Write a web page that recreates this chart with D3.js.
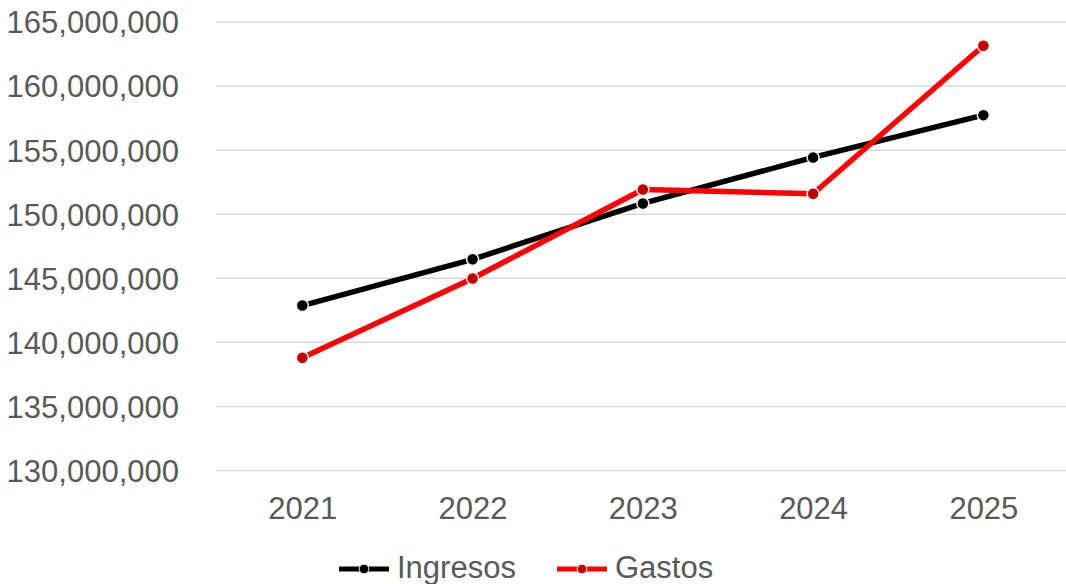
<!DOCTYPE html>
<html>
<head>
<meta charset="utf-8">
<script src="https://cdn.jsdelivr.net/npm/d3@7"></script>
<style>
  html, body { margin: 0; padding: 0; background: #fff; }
  svg { display: block; font-family: "Liberation Sans", Arial, sans-serif; }
</style>
</head>
<body>
<svg id="chart" width="1066" height="584"></svg>
<script>
const years = ["2021", "2022", "2023", "2024", "2025"];
const ingresos = [142870000, 146480000, 150840000, 154430000, 157730000];
const gastos = [138800000, 144980000, 151930000, 151600000, 163150000];
const yTicks = [130000000, 135000000, 140000000, 145000000, 150000000, 155000000, 160000000, 165000000];
const seriesNames = ["Ingresos", "Gastos"];

(function () {
const svg = d3.select("#chart");
const pLeft = 216, pRight = 1066, pTop = 22, pBottom = 470.5;

const x = d3.scalePoint().domain(years).range([217.2, 1068.5]).padding(0.5);
const y = d3.scaleLinear().domain([130000000, 165000000]).range([pBottom, pTop]);
const fmt = d3.format(",");

// gridlines
svg.append("g").selectAll("line").data(yTicks).join("line")
  .attr("x1", pLeft).attr("x2", pRight)
  .attr("y1", d => y(d)).attr("y2", d => y(d))
  .attr("stroke", "#d9d9d9").attr("stroke-width", 1.5);

// y axis labels
const yAxis = d3.axisLeft(y).tickValues(yTicks).tickFormat(fmt).tickSize(0).tickPadding(0);
const gy = svg.append("g").attr("transform", "translate(179,0)").call(yAxis);
gy.select(".domain").remove();
gy.selectAll("text").attr("font-size", 31).attr("fill", "#595959")
  .attr("font-family", "'Liberation Sans', Arial, sans-serif").attr("dy", "0.35em");

// x axis labels
const xAxis = d3.axisBottom(x).tickSize(0).tickPadding(0);
const gx = svg.append("g").attr("transform", "translate(0,519)").call(xAxis);
gx.select(".domain").remove();
gx.selectAll("text").attr("font-size", 31).attr("fill", "#595959")
  .attr("font-family", "'Liberation Sans', Arial, sans-serif").attr("y", 0).attr("dy", 0);

const series = [
  { name: seriesNames[0], values: ingresos, line: "#000000", marker: "#000000" },
  { name: seriesNames[1], values: gastos, line: "#FF0000", marker: "#C00000" }
];

const lineGen = d3.line().x((d, i) => x(years[i])).y(d => y(d));

series.forEach(s => {
  svg.append("path").datum(s.values)
    .attr("d", lineGen).attr("fill", "none")
    .attr("stroke", s.line).attr("stroke-width", 5.5).attr("stroke-linejoin", "round");
});
series.forEach(s => {
  svg.append("g").selectAll("circle").data(s.values).join("circle")
    .attr("cx", (d, i) => x(years[i])).attr("cy", d => y(d)).attr("r", 6)
    .attr("fill", s.marker).attr("stroke", "#f2f2f2").attr("stroke-width", 1.5);
});

// legend
const legendPos = [339, 557];
series.forEach((s, i) => {
  const g = svg.append("g").attr("transform", `translate(${legendPos[i]},569)`);
  g.append("line").attr("x1", 0).attr("x2", 50).attr("y1", 0).attr("y2", 0)
    .attr("stroke", s.line).attr("stroke-width", 5);
  g.append("circle").attr("cx", 25).attr("cy", 0).attr("r", 4.8)
    .attr("fill", s.marker).attr("stroke", "#f2f2f2").attr("stroke-width", 1);
  g.append("text").attr("x", 58).attr("y", 8.5).attr("font-size", 31).attr("fill", "#595959")
    .text(s.name);
});
})();
</script>
</body>
</html>
